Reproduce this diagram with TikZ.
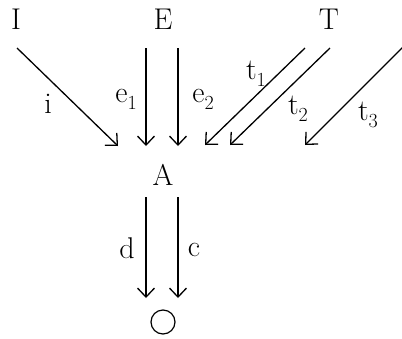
\documentclass[tikz,border=0pt]{standalone}
\usepackage{fontspec}
\usetikzlibrary{arrows.meta}
\newcommand{\sbs}[1]{\raisebox{-7pt}{\fontsize{20}{22}\selectfont #1}}
\begin{document}
\begin{tikzpicture}[x=1pt,y=-1pt,
  lab/.style={font=\fontsize{30}{34}\selectfont, inner sep=0pt},
  arr/.style={line width=1.3pt, -{Straight Barb[length=9pt,width=17pt,line width=1.3pt]}}]
\useasboundingbox (0,0) rectangle (402,338);
\node[lab] (I) at (16,19) {I};
\node[lab] (E) at (163,19) {E};
\node[lab] (T) at (329,19) {T};
\node[lab] (A) at (163,175) {A};
\node[draw, circle, line width=1.2pt, minimum size=24pt, inner sep=0pt] (O) at (163,322) {};
% free ends
\coordinate (i0) at (17,48);   \coordinate (i1) at (118,146);
\coordinate (e10) at (146,48); \coordinate (e11) at (146,146);
\coordinate (e20) at (178,48); \coordinate (e21) at (178,146);
\coordinate (t10) at (305,48); \coordinate (t11) at (205,145);
\coordinate (t20) at (330,48); \coordinate (t21) at (230,145);
\coordinate (t30) at (404,46); \coordinate (t31) at (305,145);
\coordinate (d0) at (146,197); \coordinate (d1) at (146,298);
\coordinate (c0) at (178,197); \coordinate (c1) at (178,298);
\draw[arr] (i0) -- (i1);
\draw[arr] (e10) -- (e11);
\draw[arr] (e20) -- (e21);
\draw[arr] (t10) -- (t11);
\draw[arr] (t20) -- (t21);
\draw[arr] (t30) -- (t31);
\draw[arr] (d0) -- (d1);
\draw[arr] (c0) -- (c1);
% labels
\node[lab] (li) at (48,104) {i};
\node[lab] (le1) at (126,99) {e\sbs{1}};
\node[lab] (le2) at (203,99) {e\sbs{2}};
\node[lab] (lt1) at (256,74) {t\sbs{1}};
\node[lab] (lt2) at (298,109) {t\sbs{2}};
\node[lab] (lt3) at (368,115) {t\sbs{3}};
\node[lab] (ld) at (127,248) {d};
\node[lab] (lc) at (194,250) {c};
\end{tikzpicture}
\end{document}
